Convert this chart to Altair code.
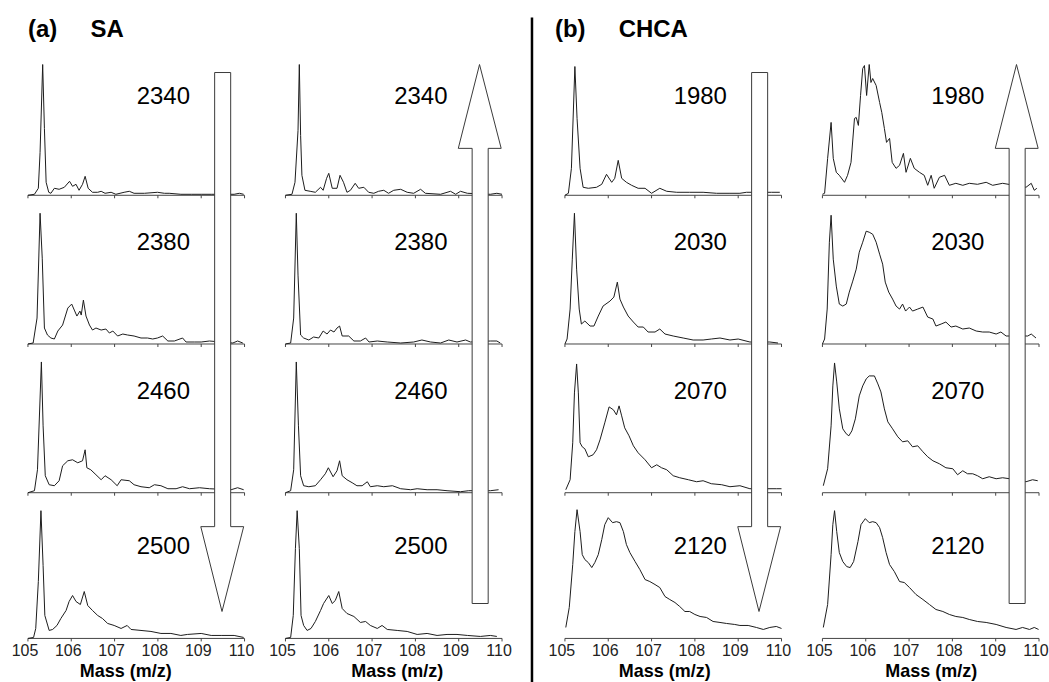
import altair as alt
import pandas as pd

# ---------------- data ----------------
MASS_TICKS = [105, 106, 107, 108, 109, 110]
SA_ENERGIES = ["2340", "2380", "2460", "2500"]
CHCA_ENERGIES = ["1980", "2030", "2070", "2120"]
PANEL_TITLES = ["(a)\u00a0\u00a0\u00a0\u00a0\u00a0SA", "(b)\u00a0\u00a0\u00a0\u00a0\u00a0CHCA"]
X_TITLE = "Mass (m/z)"

# SA, first column (energy going down); (m/z, intensity a.u.)
SA_DOWN_2340 = [(105.00,0),(105.15,1),(105.24,7),(105.28,43),(105.34,131),(105.38,67),(105.42,13),(105.48,3),(105.53,2),(105.61,7),(105.72,6),(105.84,8),(105.96,14),(106.03,9),(106.11,11),(106.18,5),(106.26,11),(106.32,19),(106.39,7),(106.49,3),(106.61,3),(106.69,4),(106.78,2),(106.92,3),(107.03,1),(107.22,3),(107.34,4),(107.45,2),(107.69,2),(107.99,3),(108.15,2),(108.26,2),(108.53,1),(108.77,1),(109.00,1),(109.23,1),(109.76,1),(109.88,2),(109.98,1)]
SA_DOWN_2380 = [(105.00,0),(105.12,1),(105.21,26),(105.28,131),(105.33,86),(105.38,16),(105.45,9),(105.53,6),(105.61,5),(105.69,13),(105.80,19),(105.92,36),(106.01,40),(106.07,34),(106.13,28),(106.20,33),(106.23,29),(106.28,44),(106.34,28),(106.42,19),(106.49,14),(106.57,16),(106.69,14),(106.80,15),(106.88,11),(106.96,13),(107.07,8),(107.19,10),(107.30,9),(107.45,8),(107.61,6),(107.76,6),(107.88,5),(107.99,6),(108.11,8),(108.23,3),(108.38,3),(108.57,6),(108.65,2),(108.84,2),(109.00,2),(109.19,3),(109.73,1),(109.84,3),(109.96,1)]
SA_DOWN_2460 = [(105.00,0),(105.15,2),(105.22,23),(105.31,131),(105.35,67),(105.40,17),(105.49,8),(105.61,7),(105.72,12),(105.80,27),(105.92,32),(106.03,33),(106.15,30),(106.26,32),(106.32,43),(106.36,25),(106.45,23),(106.57,18),(106.69,13),(106.78,17),(106.92,13),(107.06,7),(107.15,13),(107.34,12),(107.45,8),(107.61,6),(107.80,5),(107.92,8),(108.07,7),(108.23,4),(108.42,4),(108.57,6),(108.73,4),(108.96,5),(109.19,4),(109.69,3),(109.84,5),(109.98,3)]
SA_DOWN_2500 = [(105.00,0),(105.13,1),(105.18,10),(105.24,57),(105.30,128),(105.35,73),(105.39,23),(105.49,8),(105.57,9),(105.67,13),(105.76,20),(105.88,28),(105.95,37),(106.03,43),(106.11,37),(106.21,34),(106.30,47),(106.38,33),(106.49,28),(106.61,23),(106.72,20),(106.84,15),(106.99,13),(107.15,10),(107.29,13),(107.38,9),(107.61,8),(107.84,7),(108.07,5),(108.30,5),(108.53,3),(108.68,4),(109.00,5),(109.23,3),(109.46,3),(109.76,3),(109.98,1)]

# SA, second column (energy going up)
SA_UP_2340 = [(105.00,0),(105.15,1),(105.22,13),(105.29,65),(105.32,131),(105.35,60),(105.38,20),(105.45,5),(105.57,4),(105.69,3),(105.81,8),(105.87,5),(105.95,17),(106.00,22),(106.08,7),(106.19,7),(106.26,20),(106.34,13),(106.42,3),(106.50,5),(106.61,12),(106.69,7),(106.81,8),(106.92,3),(107.04,2),(107.15,4),(107.27,5),(107.38,2),(107.50,5),(107.66,6),(107.81,3),(107.96,2),(108.12,6),(108.23,2),(108.58,1),(108.81,4),(108.93,1),(109.04,4),(109.20,2),(109.73,1),(109.88,2),(110.00,1)]
SA_UP_2380 = [(105.00,0),(105.12,1),(105.19,26),(105.25,131),(105.29,69),(105.35,9),(105.42,6),(105.54,4),(105.65,7),(105.77,6),(105.87,13),(105.96,10),(106.04,14),(106.12,12),(106.19,16),(106.25,18),(106.31,8),(106.46,8),(106.58,3),(106.73,3),(106.85,6),(106.93,2),(107.12,3),(107.35,2),(107.66,1),(107.96,2),(108.15,4),(108.35,2),(108.58,1),(108.77,4),(108.96,2),(109.16,4),(109.27,2),(109.73,3),(109.88,3),(109.96,1)]
SA_UP_2460 = [(105.00,0),(105.12,2),(105.19,23),(105.25,131),(105.30,67),(105.35,17),(105.42,7),(105.54,6),(105.69,7),(105.81,13),(105.92,19),(105.99,25),(106.10,16),(106.19,22),(106.25,32),(106.31,17),(106.42,13),(106.54,10),(106.65,7),(106.77,7),(106.89,11),(106.96,6),(107.12,7),(107.27,6),(107.47,7),(107.66,4),(107.89,3),(108.04,4),(108.27,3),(108.50,3),(108.73,2),(109.04,1),(109.23,2),(109.73,2),(109.92,3)]
SA_UP_2500 = [(105.00,0),(105.12,1),(105.18,23),(105.23,90),(105.27,128),(105.32,90),(105.36,23),(105.42,13),(105.50,8),(105.59,10),(105.69,17),(105.81,28),(105.88,35),(106.00,43),(106.08,35),(106.15,38),(106.23,47),(106.31,30),(106.42,25),(106.58,22),(106.73,16),(106.85,17),(106.96,13),(107.12,10),(107.23,13),(107.35,9),(107.58,8),(107.81,7),(108.04,4),(108.27,5),(108.50,3),(108.73,4),(108.96,4),(109.20,3),(109.50,2),(109.73,3),(109.88,2)]

# CHCA, first column (energy going down)
CHCA_DOWN_1980 = [(105.00,0),(105.08,2),(105.15,27),(105.23,129),(105.28,77),(105.35,27),(105.42,8),(105.54,7),(105.73,8),(105.85,11),(105.96,21),(106.08,13),(106.15,17),(106.23,35),(106.31,17),(106.42,13),(106.54,10),(106.69,7),(106.85,7),(107.00,2),(107.19,7),(107.35,4),(107.58,3),(107.88,3),(108.19,3),(108.50,2),(108.81,2),(109.04,2),(109.19,3),(109.77,3),(109.96,3)]
CHCA_DOWN_2030 = [(105.00,0),(105.05,5),(105.12,35),(105.17,85),(105.22,131),(105.27,75),(105.33,35),(105.38,20),(105.46,23),(105.58,18),(105.67,18),(105.77,28),(105.88,38),(106.04,43),(106.13,47),(106.21,62),(106.27,45),(106.35,37),(106.46,28),(106.58,22),(106.69,17),(106.81,17),(106.92,12),(107.08,12),(107.19,15),(107.31,10),(107.50,8),(107.73,6),(107.96,4),(108.19,4),(108.38,5),(108.58,6),(108.81,4),(109.00,5),(109.27,2),(109.73,2),(109.92,1)]
CHCA_DOWN_2070 = [(105.02,3),(105.12,13),(105.18,50),(105.22,100),(105.27,129),(105.31,100),(105.35,50),(105.40,46),(105.46,44),(105.54,36),(105.65,38),(105.73,43),(105.81,53),(105.92,70),(106.02,86),(106.12,83),(106.19,78),(106.25,87),(106.31,77),(106.38,65),(106.48,57),(106.58,47),(106.69,40),(106.85,33),(107.00,25),(107.12,28),(107.23,25),(107.35,23),(107.50,17),(107.65,15),(107.85,13),(108.04,11),(108.19,12),(108.38,9),(108.62,8),(108.81,6),(109.04,7),(109.27,4),(109.88,4),(110.00,4)]
CHCA_DOWN_2120 = [(105.02,11),(105.10,31),(105.18,74),(105.23,107),(105.28,129),(105.35,107),(105.40,84),(105.46,79),(105.54,76),(105.62,71),(105.69,76),(105.77,84),(105.85,99),(105.92,114),(106.00,121),(106.10,116),(106.19,117),(106.27,116),(106.35,107),(106.42,94),(106.50,86),(106.62,77),(106.73,69),(106.85,59),(106.96,57),(107.08,54),(107.19,51),(107.31,42),(107.42,39),(107.54,36),(107.65,32),(107.77,27),(107.88,27),(108.00,24),(108.12,22),(108.27,21),(108.42,17),(108.58,16),(108.73,15),(108.92,14),(109.04,13),(109.23,13),(109.42,11),(109.58,9),(109.73,11),(109.88,12),(110.00,10)]

# CHCA, second column (energy going up)
CHCA_UP_1980 = [(105.00,1),(105.05,2),(105.12,37),(105.20,73),(105.25,37),(105.32,23),(105.39,20),(105.51,13),(105.58,20),(105.66,33),(105.74,77),(105.78,78),(105.83,70),(105.88,100),(105.93,127),(105.97,130),(106.02,100),(106.08,131),(106.12,113),(106.16,117),(106.24,110),(106.32,93),(106.37,83),(106.43,67),(106.48,53),(106.55,57),(106.61,33),(106.70,27),(106.78,30),(106.87,42),(106.93,23),(107.03,37),(107.12,27),(107.24,23),(107.35,20),(107.43,10),(107.51,20),(107.58,7),(107.70,18),(107.82,20),(107.93,10),(108.08,12),(108.24,10),(108.39,12),(108.58,11),(108.78,13),(108.93,10),(109.16,12),(109.70,8),(109.82,12),(109.89,5),(109.95,7)]
CHCA_UP_2030 = [(105.00,0),(105.05,5),(105.11,35),(105.16,102),(105.20,129),(105.25,85),(105.32,58),(105.39,40),(105.47,38),(105.55,40),(105.62,52),(105.70,63),(105.78,75),(105.85,92),(105.93,102),(106.01,113),(106.08,112),(106.16,110),(106.24,102),(106.32,90),(106.39,80),(106.45,62),(106.53,52),(106.62,45),(106.70,38),(106.78,35),(106.85,40),(106.92,33),(107.01,37),(107.08,33),(107.20,35),(107.32,37),(107.43,27),(107.55,25),(107.62,18),(107.74,20),(107.85,22),(107.97,17),(108.08,18),(108.24,15),(108.39,16),(108.55,13),(108.70,12),(108.85,12),(109.01,10),(109.12,12),(109.24,8),(109.74,8),(109.82,10),(109.93,6)]
CHCA_UP_2070 = [(105.02,7),(105.12,24),(105.20,67),(105.24,107),(105.28,130),(105.33,111),(105.39,84),(105.47,64),(105.55,59),(105.61,57),(105.68,62),(105.76,74),(105.85,97),(105.93,107),(106.01,114),(106.08,117),(106.20,117),(106.28,109),(106.35,101),(106.43,84),(106.51,71),(106.62,64),(106.74,56),(106.85,51),(106.97,52),(107.08,46),(107.20,47),(107.32,41),(107.43,36),(107.55,32),(107.70,29),(107.85,25),(108.01,24),(108.12,18),(108.24,22),(108.35,19),(108.47,19),(108.58,17),(108.70,14),(108.85,16),(109.01,14),(109.16,15),(109.32,14),(109.70,11),(109.85,13),(109.97,12)]
CHCA_UP_2120 = [(105.02,11),(105.12,34),(105.20,84),(105.24,114),(105.28,128),(105.33,107),(105.39,86),(105.47,77),(105.56,72),(105.64,71),(105.72,77),(105.82,97),(105.89,114),(105.99,120),(106.08,116),(106.16,117),(106.24,116),(106.32,111),(106.39,101),(106.47,86),(106.55,74),(106.66,67),(106.78,57),(106.89,56),(107.01,51),(107.16,44),(107.32,39),(107.47,34),(107.62,29),(107.78,27),(107.93,24),(108.08,22),(108.24,21),(108.39,19),(108.58,17),(108.78,16),(109.01,14),(109.24,11),(109.47,9),(109.62,11),(109.78,9),(109.89,11),(109.99,9)]

# ---------------- layout (not data) ----------------
AX_W = 217                             # pixel length of the 105-110 axis
EXTRA = 11                             # extra room either side of the central divider
PLOT_H = 592
ROW_BASE = [444, 295, 146, 0]          # baseline of each stacked row (px units)
LABEL_LIFT = [91, 94, 94, 85]          # height of the energy label above its row baseline
LABEL_X = 108.74
SHAFT = (109.31, 109.68)
HEAD = (108.99, 109.98)
TIP_X = 109.48
FONT = "Liberation Sans"
YSCALE = alt.Scale(domain=[0, PLOT_H], nice=False, zero=False)


def column(spectra, labels, direction, width, x_range, title_x, panel_title=None, divider=False):
    xscale = alt.Scale(domain=[105, 110], range=x_range, nice=False, zero=False)

    def X(field):
        return alt.X(field, type="quantitative", scale=xscale, axis=None)

    def Y(field):
        return alt.Y(field, type="quantitative", scale=YSCALE, axis=None)

    recs = []
    for r, spec in enumerate(spectra):
        for mz, h in spec:
            recs.append({"row": r, "mz": mz, "y": ROW_BASE[r] + h})
    spec_df = pd.DataFrame(recs)

    base_df = pd.DataFrame([{"mz": MASS_TICKS[0], "mz2": MASS_TICKS[-1], "y": ROW_BASE[r]}
                            for r in range(4)])
    tick_df = pd.DataFrame([{"mz": t, "y": ROW_BASE[r], "y2": ROW_BASE[r] - 3}
                            for r in range(4) for t in MASS_TICKS])
    ticklab_df = pd.DataFrame([{"mz": t, "txt": str(t)} for t in MASS_TICKS])
    lab_df = pd.DataFrame([{"mz": LABEL_X, "y": ROW_BASE[r] + LABEL_LIFT[r], "label": labels[r]}
                           for r in range(4)])

    if direction == "down":
        s_top, s_bot, head_base, tip = 567, 112, 112, 27
        outline = [(SHAFT[0], s_top), (SHAFT[1], s_top), (SHAFT[1], head_base), (HEAD[1], head_base),
                   (TIP_X, tip), (HEAD[0], head_base), (SHAFT[0], head_base), (SHAFT[0], s_top)]
    else:
        s_top, s_bot, head_base, tip = 491, 35, 491, 575
        outline = [(SHAFT[0], s_bot), (SHAFT[1], s_bot), (SHAFT[1], head_base), (HEAD[1], head_base),
                   (TIP_X, tip), (HEAD[0], head_base), (SHAFT[0], head_base), (SHAFT[0], s_bot)]
    shaft_df = pd.DataFrame([{"mz": SHAFT[0], "mz2": SHAFT[1], "y": s_bot, "y2": s_top}])
    head_df = pd.DataFrame([{"mz": HEAD[0], "y": head_base, "y2": head_base},
                            {"mz": TIP_X, "y": head_base, "y2": tip},
                            {"mz": HEAD[1], "y": head_base, "y2": head_base}])
    out_df = pd.DataFrame([{"mz": x, "y": y, "o": i} for i, (x, y) in enumerate(outline)])

    lines = alt.Chart(spec_df).mark_line(color="#1c1c1c", strokeWidth=1).encode(
        x=X("mz"), y=Y("y"), detail="row:N")
    bases = alt.Chart(base_df).mark_rule(color="#444", strokeWidth=1).encode(
        x=X("mz"), x2="mz2:Q", y=Y("y"))
    ticks = alt.Chart(tick_df).mark_rule(color="#444", strokeWidth=1).encode(
        x=X("mz"), y=Y("y"), y2="y2:Q")
    ticklabs = alt.Chart(ticklab_df).mark_text(font=FONT, fontSize=16, color="#222", dx=-3,
                                               align="center", baseline="top").encode(
        x=X("mz"), y=alt.value(PLOT_H + 5), text="txt:N")
    xtitle = alt.Chart(pd.DataFrame([{"t": X_TITLE}])).mark_text(
        font=FONT, fontSize=18, fontWeight="bold", color="black",
        align="center", baseline="alphabetic").encode(
        x=alt.value(title_x), y=alt.value(PLOT_H + 39), text="t:N")
    texts = alt.Chart(lab_df).mark_text(font=FONT, fontSize=24, color="black",
                                        align="right", baseline="alphabetic").encode(
        x=X("mz"), y=Y("y"), text="label:N")
    shaft = alt.Chart(shaft_df).mark_rect(color="white", strokeWidth=0).encode(
        x=X("mz"), x2="mz2:Q", y=Y("y"), y2="y2:Q")
    head = alt.Chart(head_df).mark_area(color="white").encode(
        x=X("mz"), y=Y("y"), y2="y2:Q")
    edge = alt.Chart(out_df).mark_line(color="#3a3a3a", strokeWidth=1, strokeJoin="miter").encode(
        x=X("mz"), y=Y("y"), order="o:Q")

    layers = [bases, ticks, lines, texts, ticklabs, xtitle, shaft, head, edge]
    if panel_title is not None:
        ttl = alt.Chart(pd.DataFrame([{"t": panel_title}])).mark_text(
            font=FONT, fontSize=24, fontWeight="bold", color="black",
            align="left", baseline="alphabetic").encode(
            x=alt.value(x_range[0] - 10 if divider else x_range[0]), y=alt.value(-11), text="t:N")
        layers.append(ttl)
    if divider:
        div = alt.Chart(pd.DataFrame([{"d": 0}])).mark_rule(color="black", strokeWidth=2.5).encode(
            x=alt.value(-22), y=alt.value(-30), y2=alt.value(637))
        layers.append(div)
    return alt.layer(*layers).properties(width=width, height=PLOT_H)


col1 = column([SA_DOWN_2340, SA_DOWN_2380, SA_DOWN_2460, SA_DOWN_2500], SA_ENERGIES, "down",
              AX_W, [0, AX_W], 98, panel_title=PANEL_TITLES[0])
col2 = column([SA_UP_2340, SA_UP_2380, SA_UP_2460, SA_UP_2500], SA_ENERGIES, "up",
              AX_W + EXTRA, [0, AX_W], 112)
col3 = column([CHCA_DOWN_1980, CHCA_DOWN_2030, CHCA_DOWN_2070, CHCA_DOWN_2120], CHCA_ENERGIES, "down",
              AX_W + EXTRA, [EXTRA, EXTRA + AX_W], EXTRA + 100, panel_title=PANEL_TITLES[1], divider=True)
col4 = column([CHCA_UP_1980, CHCA_UP_2030, CHCA_UP_2070, CHCA_UP_2120], CHCA_ENERGIES, "up",
              AX_W, [0, AX_W], 109)

chart = alt.hconcat(col1, col2, col3, col4, spacing=41, bounds="flush").properties(
    padding={"left": 11, "top": 15, "right": 0, "bottom": 0},
    background="white",
).configure_view(stroke=None)

chart.save("out.html", embed_options={"renderer": "svg", "actions": False})
